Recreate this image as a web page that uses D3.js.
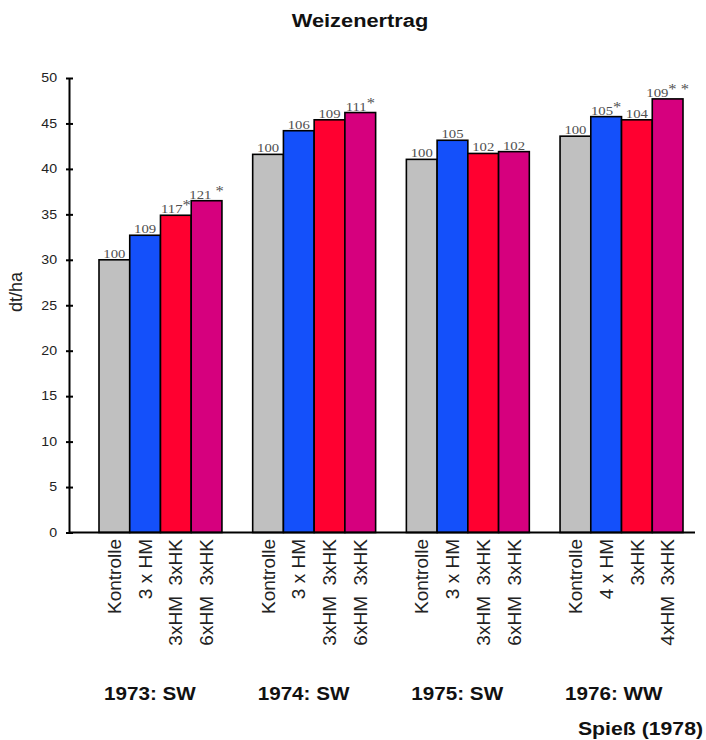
<!DOCTYPE html>
<html lang="en">
<head>
<meta charset="utf-8">
<script src="https://d3js.org/d3.v7.min.js"></script>
<style>
  body { margin: 0; background: #fff; }
  text { font-family: "Liberation Sans", Arial, sans-serif; }
  text.val { font-family: "Liberation Serif", "Times New Roman", serif; }
</style>
</head>
<body>
<script>
// data
const groups = ["1973: SW", "1974: SW", "1975: SW", "1976: WW"];
const treatments = [
  ["Kontrolle", "3 x HM", "3xHM  3xHK", "6xHM  3xHK"],
  ["Kontrolle", "3 x HM", "3xHM  3xHK", "6xHM  3xHK"],
  ["Kontrolle", "3 x HM", "3xHM  3xHK", "6xHM  3xHK"],
  ["Kontrolle", "4 x HM", "3xHK", "4xHM  3xHK"]
];
const values = [
  [30.0, 32.7, 34.9, 36.5],
  [41.6, 44.2, 45.4, 46.2],
  [41.05, 43.15, 41.7, 41.9],
  [43.6, 45.75, 45.4, 47.7]
];
const relative = [
  ["100", "109", "117", "121"],
  ["100", "106", "109", "111"],
  ["100", "105", "102", "102"],
  ["100", "105", "104", "109"]
];
const stars = [
  ["", "", "*", " *"],
  ["", "", "", "*"],
  ["", "", "", ""],
  ["", "*", "", "* *"]
];
const colors = ["#c0c0c0", "#1450fa", "#ff0030", "#d6007e"];
const yTicks = [0, 5, 10, 15, 20, 25, 30, 35, 40, 45, 50];

const width = 706, height = 740;
const axisX = 69, axisRight = 695;
const stretch = 1.18; // the original picture is wider than normal type

const svg = d3.select("body").append("svg")
  .attr("width", width)
  .attr("height", height);

const y = d3.scaleLinear().domain([0, 50]).range([532.5, 78]);

const x0 = d3.scaleBand()
  .domain(groups)
  .range([99, 683])
  .paddingInner(0.2)
  .paddingOuter(0);

const x1 = d3.scaleBand()
  .domain([0, 1, 2, 3])
  .range([0, x0.bandwidth()])
  .padding(0);

// title
svg.append("text")
  .attr("transform", "translate(360,27) scale(" + stretch + ",1)")
  .attr("text-anchor", "middle")
  .attr("font-weight", "bold")
  .attr("font-size", 18.5)
  .attr("fill", "#111")
  .text("Weizenertrag");

// y axis
const yAxis = svg.append("g")
  .attr("transform", "translate(" + axisX + ",0)")
  .call(d3.axisLeft(y).tickValues(yTicks).tickSize(0).tickSizeOuter(0));

yAxis.select(".domain").attr("stroke", "#000").attr("stroke-width", 2);
yAxis.selectAll(".tick line").remove();
yAxis.selectAll(".tick").append("line")
  .attr("x1", -3).attr("x2", 4)
  .attr("stroke", "#000").attr("stroke-width", 2);
yAxis.selectAll(".tick text")
  .attr("x", -12 / stretch)
  .attr("transform", "scale(" + stretch + ",1)")
  .attr("font-size", 12)
  .style("font-family", "Liberation Sans, Arial, sans-serif")
  .attr("fill", "#222");

svg.append("text")
  .attr("transform", "translate(16,292) rotate(-90)")
  .attr("text-anchor", "middle")
  .attr("dy", "0.35em")
  .attr("font-size", 18)
  .attr("fill", "#222")
  .text("dt/ha");

// bars
const g = svg.selectAll(".group")
  .data(groups)
  .enter().append("g")
  .attr("class", "group")
  .attr("transform", d => "translate(" + x0(d) + ",0)");

g.selectAll("rect")
  .data((d, i) => values[i].map((v, j) => ({v: v, j: j})))
  .enter().append("rect")
  .attr("x", d => x1(d.j))
  .attr("y", d => y(d.v))
  .attr("width", x1.bandwidth())
  .attr("height", d => y(0) - y(d.v))
  .attr("fill", d => colors[d.j])
  .attr("stroke", "#000")
  .attr("stroke-width", 1.6);

// relative yield labels
const lab = g.selectAll(".val")
  .data((d, i) => values[i].map((v, j) => ({v: v, j: j, t: relative[i][j], s: stars[i][j]})))
  .enter().append("text")
  .attr("class", "val")
  .attr("transform", d => "translate(" + (x1(d.j) + x1.bandwidth() / 2) + "," + (y(d.v) - 2) + ") scale(" + stretch + ",1)")
  .attr("text-anchor", "middle")
  .attr("font-size", 12.5)
  .attr("fill", "#505050");
lab.append("tspan").text(d => d.t);
lab.filter(d => d.s !== "").append("tspan")
  .attr("dy", -3)
  .attr("font-size", 14)
  .attr("xml:space", "preserve")
  .style("white-space", "pre")
  .text(d => d.s);

// x axis line
svg.append("line")
  .attr("x1", axisX).attr("x2", axisRight)
  .attr("y1", y(0)).attr("y2", y(0))
  .attr("stroke", "#000").attr("stroke-width", 2);

// treatment labels
g.selectAll(".cat")
  .data((d, i) => treatments[i].map((t, j) => ({t: t, j: j})))
  .enter().append("text")
  .attr("class", "cat")
  .attr("transform", d => "translate(" + (x1(d.j) + x1.bandwidth() / 2) + ",539) rotate(-90)")
  .attr("text-anchor", "end")
  .attr("dy", "0.35em")
  .attr("font-size", 19)
  .attr("fill", "#222")
  .attr("xml:space", "preserve")
  .style("white-space", "pre")
  .text(d => d.t);

// year labels
g.append("text")
  .attr("transform", "translate(5,700) scale(" + stretch + ",1)")
  .attr("font-weight", "bold")
  .attr("font-size", 17.5)
  .attr("fill", "#111")
  .text(d => d);

svg.append("text")
  .attr("transform", "translate(703,735) scale(" + stretch + ",1)")
  .attr("text-anchor", "end")
  .attr("font-weight", "bold")
  .attr("font-size", 18)
  .attr("fill", "#111")
  .text("Spieß (1978)");
</script>
</body>
</html>
